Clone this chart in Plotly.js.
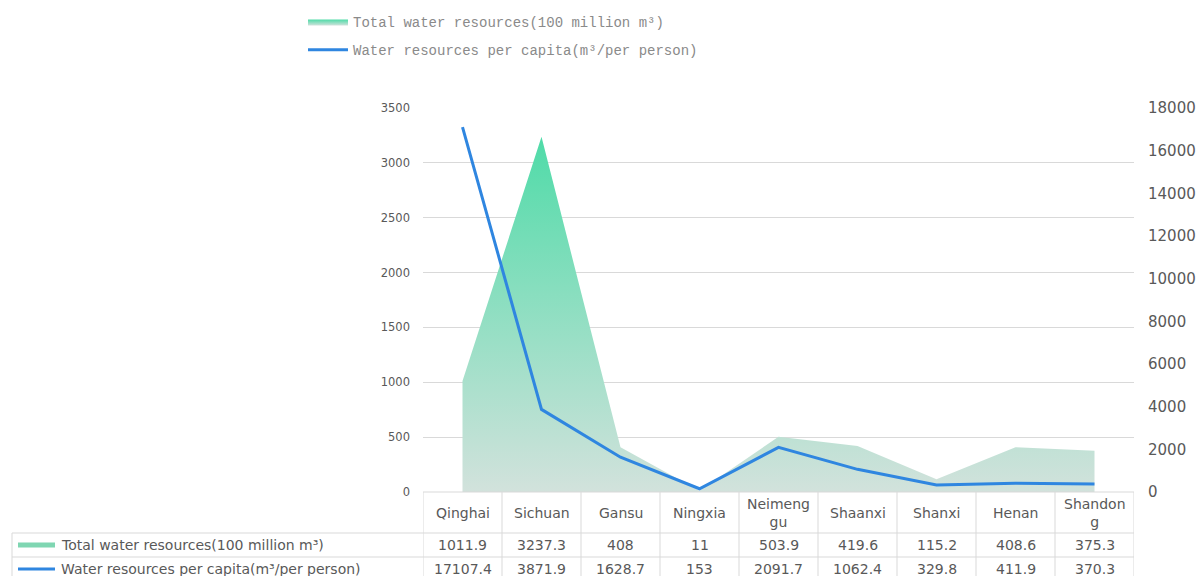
<!DOCTYPE html>
<html>
<head>
<meta charset="utf-8">
<script src="https://cdn.plot.ly/plotly-3.0.1.min.js"></script>
<style>
html,body{margin:0;padding:0;background:#fff;}
#chart{width:1201px;height:576px;}
</style>
</head>
<body>
<div id="chart"></div>
<script>
// ---- data ----
const provinces = ["Qinghai","Sichuan","Gansu","Ningxia","Neimenggu","Shaanxi","Shanxi","Henan","Shandong"];
const headerLabels = ["Qinghai","Sichuan","Gansu","Ningxia","Neimeng<br>gu","Shaanxi","Shanxi","Henan","Shandon<br>g"];
const totalWater = [1011.9, 3237.3, 408, 11, 503.9, 419.6, 115.2, 408.6, 375.3];
const perCapita = [17107.4, 3871.9, 1628.7, 153, 2091.7, 1062.4, 329.8, 411.9, 370.3];
const seriesNames = ["Total water resources(100 million m³)", "Water resources per capita(m³/per person)"];
const leftTicks = [0,500,1000,1500,2000,2500,3000,3500];
const rightTicks = [0,2000,4000,6000,8000,10000,12000,14000,16000,18000];

// ---- layout helpers (pixel -> paper) ----
const L = 423, R = 67, T = 108, B = 84, W = 1201, H = 576;
const pw = W - L - R, ph = H - T - B;
const xp = px => (px - L) / pw;
const yp = py => (H - B - py) / ph;

const green = '#7fd6b2';
const blue = '#2f86e0';
const grid = '#d9d9d9';
const txt = '#595959';
const tableFont = {family: 'DejaVu Sans', size: 14, color: txt};

const traces = [
  {
    x: provinces, y: totalWater, name: seriesNames[0], type: 'scatter', mode: 'lines',
    line: {width: 0, color: green}, fill: 'tozeroy', fillcolor: green,
    fillgradient: {type: 'vertical', colorscale: [[0, '#d2e2dc'], [1, '#4fdba8']]},
    yaxis: 'y', legendgroup: 'a', hoverinfo: 'x+y'
  },
  {
    x: provinces, y: perCapita, name: seriesNames[1], type: 'scatter', mode: 'lines',
    line: {width: 3, color: blue}, yaxis: 'y2', legendgroup: 'b', hoverinfo: 'x+y'
  }
];

// ---- data table (annotations + borders) ----
const annotations = [];
const shapes = [];
const rowTops = [492, 533, 557];
const rowBottoms = [533, 557, 581];
const rowCenters = rowTops.map((t, i) => (t + rowBottoms[i]) / 2);

provinces.forEach((p, i) => {
  annotations.push({x: p, xref: 'x', y: yp(rowCenters[0]), yref: 'paper', text: headerLabels[i],
    showarrow: false, font: tableFont, xanchor: 'center', yanchor: 'middle'});
  annotations.push({x: p, xref: 'x', y: yp(rowCenters[1]), yref: 'paper', text: String(totalWater[i]),
    showarrow: false, font: tableFont, xanchor: 'center', yanchor: 'middle'});
  annotations.push({x: p, xref: 'x', y: yp(rowCenters[2]), yref: 'paper', text: String(perCapita[i]),
    showarrow: false, font: tableFont, xanchor: 'center', yanchor: 'middle'});
});
// row label column
seriesNames.forEach((n, k) => {
  annotations.push({x: xp(59), xref: 'paper', y: yp(rowCenters[k + 1]), yref: 'paper', text: n,
    showarrow: false, font: tableFont, xanchor: 'left', yanchor: 'middle'});
});
shapes.push({type: 'line', xref: 'paper', yref: 'paper', x0: xp(18), x1: xp(55),
  y0: yp(rowCenters[1]), y1: yp(rowCenters[1]), line: {color: green, width: 5}});
shapes.push({type: 'line', xref: 'paper', yref: 'paper', x0: xp(18), x1: xp(55),
  y0: yp(rowCenters[2]), y1: yp(rowCenters[2]), line: {color: blue, width: 3}});

// vertical borders for category columns
for (let i = 0; i <= provinces.length; i++) {
  shapes.push({type: 'line', xref: 'x', yref: 'paper', x0: i - 0.5, x1: i - 0.5,
    y0: yp(rowTops[0]), y1: yp(rowBottoms[2]), line: {color: grid, width: 1}});
}
// left border of label column
shapes.push({type: 'line', xref: 'paper', yref: 'paper', x0: xp(12), x1: xp(12),
  y0: yp(rowTops[1]), y1: yp(rowBottoms[2]), line: {color: grid, width: 1}});
// horizontal borders
shapes.push({type: 'line', xref: 'x', yref: 'paper', x0: -0.5, x1: provinces.length - 0.5,
  y0: yp(rowTops[0]), y1: yp(rowTops[0]), line: {color: grid, width: 1}});
[rowTops[1], rowTops[2]].forEach(py => {
  shapes.push({type: 'line', xref: 'paper', yref: 'paper', x0: xp(12), x1: xp(L + pw),
    y0: yp(py), y1: yp(py), line: {color: grid, width: 1}});
});

const layout = {
  width: W, height: H,
  margin: {l: L, r: R, t: T, b: B, pad: 0, autoexpand: false},
  paper_bgcolor: '#fff', plot_bgcolor: '#fff',
  showlegend: true,
  legend: {x: xp(303), y: yp(6), xanchor: 'left', yanchor: 'top', orientation: 'v',
    font: {family: 'Liberation Mono', size: 14, color: '#8a8a8a'},
    itemwidth: 40, tracegroupgap: 7, bgcolor: 'rgba(0,0,0,0)', traceorder: 'grouped'},
  xaxis: {type: 'category', range: [-0.5, provinces.length - 0.5], showticklabels: false,
    showgrid: false, zeroline: false, showline: false, ticks: '', fixedrange: true},
  yaxis: {range: [0, 3500], tickvals: leftTicks, ticktext: leftTicks.map(String),
    showgrid: true, gridcolor: grid, gridwidth: 1, zeroline: false, showline: false,
    tickfont: {family: 'DejaVu Sans', size: 11.5, color: txt}, ticks: '', ticklabelstandoff: 12},
  yaxis2: {range: [0, 18000], tickvals: rightTicks, ticktext: rightTicks.map(String),
    overlaying: 'y', side: 'right', showgrid: false, zeroline: false, showline: false,
    tickfont: {family: 'DejaVu Sans', size: 15, color: txt}, ticks: '', ticklabelstandoff: 13},
  annotations: annotations,
  shapes: shapes
};

Plotly.newPlot('chart', traces, layout, {displayModeBar: false, staticPlot: true});
</script>
</body>
</html>
